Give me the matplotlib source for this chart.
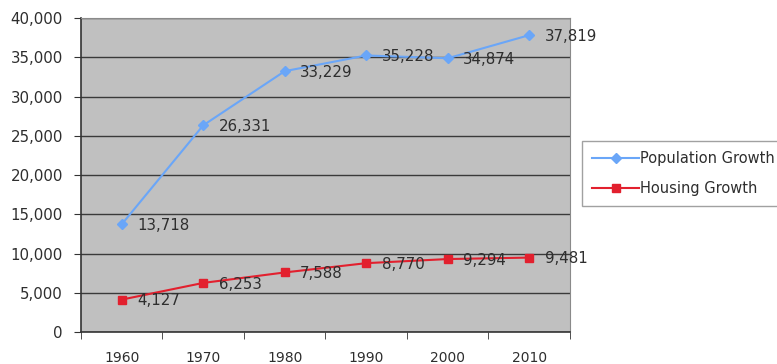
import matplotlib.pyplot as plt
from matplotlib.ticker import FuncFormatter

years = ["1960", "1970", "1980", "1990", "2000", "2010"]
population = [13718, 26331, 33229, 35228, 34874, 37819]
housing = [4127, 6253, 7588, 8770, 9294, 9481]

BLUE = "#6aa6f8"
RED = "#e2202e"
TEXT = "#2e2e2e"

fig = plt.figure(figsize=(7.77, 3.64), dpi=100)
ax = fig.add_axes([0.1042, 0.0879, 0.6294, 0.8626])
ax.set_facecolor("#c0c0c0")

x = list(range(len(years)))
ax.plot(x, population, color=BLUE, marker="D", markersize=5.5, linewidth=1.5,
        label="Population Growth")
ax.plot(x, housing, color=RED, marker="s", markersize=6.2, linewidth=1.5,
        label="Housing Growth")

for series in (population, housing):
    for xi, v in zip(x, series):
        ax.annotate(f"{v:,}", (xi, v), xytext=(11, -1), textcoords="offset points",
                    va="center", ha="left", fontsize=10.8, color=TEXT)

ax.set_xlim(-0.5, len(years) - 0.5)
ax.set_ylim(0, 40000)
ax.set_yticks(range(0, 40001, 5000))
ax.yaxis.set_major_formatter(FuncFormatter(lambda v, _: f"{int(v):,}"))
ax.set_xticks(x)
ax.set_xticklabels(years)
ax.set_xticks([i - 0.5 for i in range(len(years) + 1)], minor=True)
ax.tick_params(axis="x", which="major", length=0, pad=14, labelsize=10, colors=TEXT)
ax.tick_params(axis="x", which="minor", length=5, color="#333333")
ax.tick_params(axis="y", length=5, pad=8, labelsize=10.8, colors=TEXT, color="#333333")

ax.grid(axis="y", color="#3a3a3a", linewidth=1.0)
ax.set_axisbelow(True)
for side in ("top", "right"):
    ax.spines[side].set_color("#8a8a8a")
for side in ("left", "bottom"):
    ax.spines[side].set_color("#333333")
    ax.spines[side].set_linewidth(1.2)

leg = fig.legend(loc="upper left", bbox_to_anchor=(582 / 777, 1 - 141 / 364),
                 frameon=True, fancybox=False, fontsize=10.5, handlelength=3.2,
                 handletextpad=0.05, borderpad=0.7, labelspacing=1.0,
                 borderaxespad=0)
leg.get_frame().set_edgecolor("#8a8a8a")
leg.get_frame().set_linewidth(1.0)
for t in leg.get_texts():
    t.set_color(TEXT)

fig.savefig("out.png", dpi=100)
